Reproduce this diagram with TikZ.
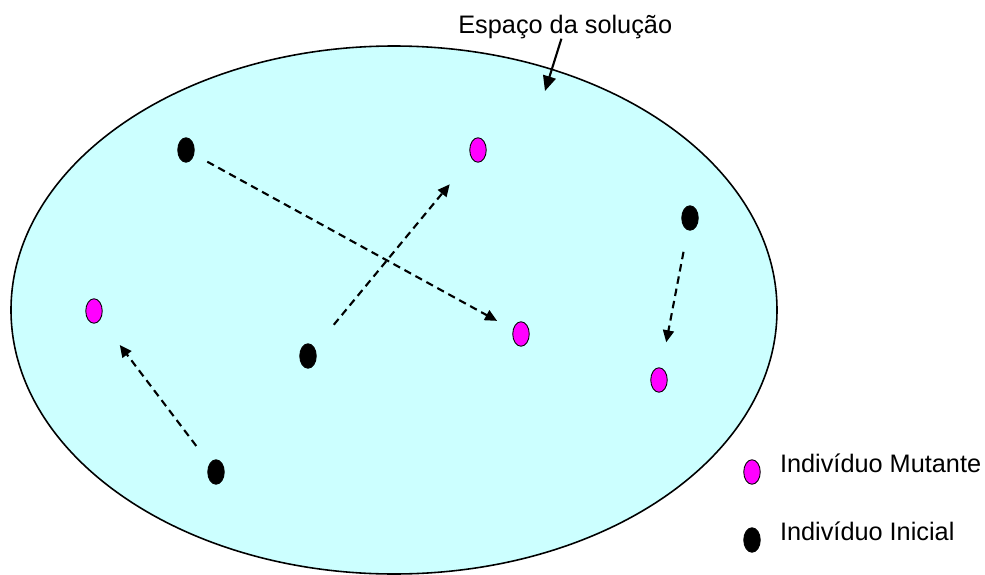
\documentclass[tikz,border=0pt]{standalone}
\usepackage{fontspec}
\setmainfont{Liberation Sans}
\usetikzlibrary{
    positioning,      % posicionamento relativo
    arrows.meta,      % pontas de seta
    shapes.geometric  % elipses
}
\definecolor{ciano}{HTML}{CCFFFF}
\definecolor{magenta}{HTML}{FF00FF}

\begin{document}
\begin{tikzpicture}[
        x=0.02cm, y=-0.02cm,
        ponto/.style={
            ellipse,
            draw=black,
            line width=0.5pt,
            inner sep=0pt,
            minimum width=0.33cm,
            minimum height=0.49cm,
            fill=#1
        },
        ponto/.default=black,
        seta/.style={
            -{Triangle[length=0.24cm,width=0.22cm]},
            line width=1.2pt,
            dash pattern=on 0.15cm off 0.1cm
        },
        texto/.style={
            inner sep=0pt,
            font=\fontsize{14.4}{17}\selectfont
        }
    ]
    \useasboundingbox (0,0) rectangle (985,575);

    % espaço da solução
    \draw[fill=ciano, line width=0.9pt] (394,310) ellipse [x radius=383, y radius=264];
    \node[texto, anchor=base west] (titulo) at (458,33) {Espaço da solução};
    \coordinate (alvo) at (545,91);
    \draw[-{Triangle[length=0.3cm,width=0.26cm]}, line width=1.2pt] (titulo) -- (alvo);

    % indivíduos iniciais
    \node[ponto] (ini1) at (186,150) {};
    \node[ponto] (ini2) at (690,218) {};
    \node[ponto] (ini3) at (308,356) {};
    \node[ponto] (ini4) at (216,472) {};

    % indivíduos mutantes
    \node[ponto=magenta] (mut1) at (478,150) {};
    \node[ponto=magenta] (mut2) at (94,311) {};
    \node[ponto=magenta] (mut3) at (521,334) {};
    \node[ponto=magenta] (mut4) at (659,380) {};

    % mutações
    \draw[seta, shorten <=0.3cm, shorten >=0.36cm] (ini1) -- (mut3);
    \draw[seta, shorten <=0.6cm, shorten >=0.68cm] (ini3) -- (mut1);
    \draw[seta, shorten <=0.44cm, shorten >=0.52cm] (ini2) -- (mut4);
    \draw[seta, shorten <=0.44cm, shorten >=0.64cm] (ini4) -- (mut2);

    % legenda
    \node[ponto=magenta] (legMut) at (752,472) {};
    \node[texto, right=0.38cm of legMut.east, anchor=base west] (txtMut) {Indivíduo Mutante};
    \node[ponto] (legIni) at (752,540) {};
    \node[texto, right=0.38cm of legIni.east, anchor=base west] (txtIni) {Indivíduo Inicial};
\end{tikzpicture}
\end{document}
